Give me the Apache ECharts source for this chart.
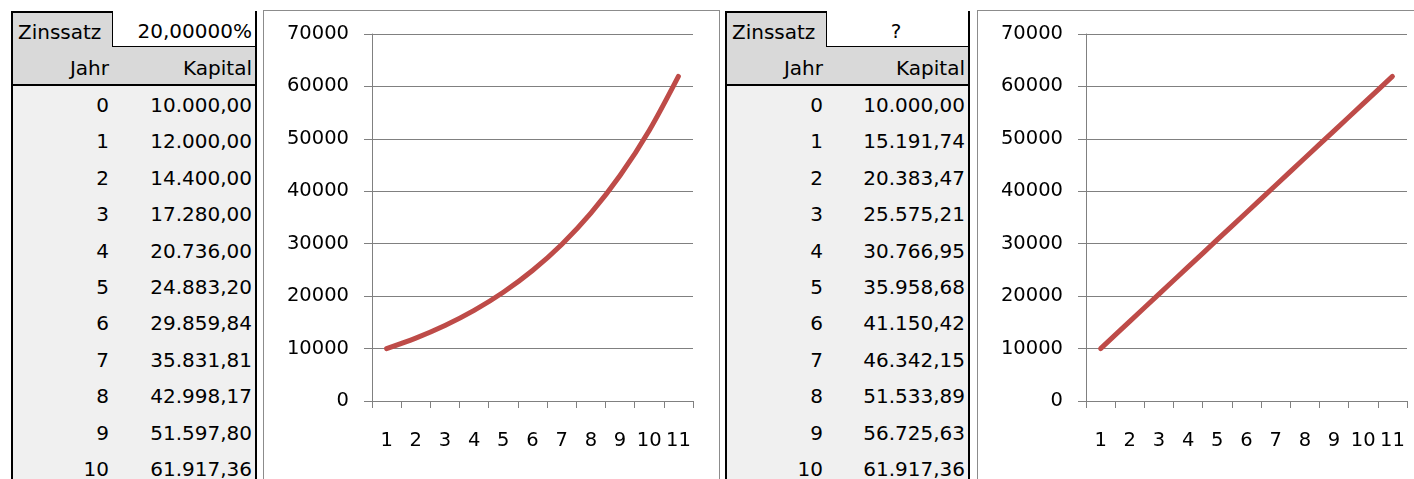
<!DOCTYPE html>
<html>
<head>
<meta charset="utf-8">
<script src="https://cdn.jsdelivr.net/npm/echarts@6/dist/echarts.min.js"></script>
<style>
body {
    margin: 0;
    width: 1414px;
    height: 479px;
    overflow: hidden;
    position: relative;
    background: #fff;
    font-family: "DejaVu Sans", sans-serif;
    color: #000;
}
.tbl {
    position: absolute;
    top: 11px;
    height: 480px;
    background: #f0f0f0;
    border: 2px solid #000;
    border-bottom: none;
    box-sizing: border-box;
    font-size: 20px;
}
.tbl div {
    position: absolute;
    white-space: nowrap;
}
.hdr { background: #d9d9d9; left: 0; right: 0; top: 0; height: 72px; }
.cell { height: 36px; line-height: 38px; text-align: right; }
.box {
    position: absolute;
    top: 10px;
    height: 480px;
    border: 1px solid #8c8c8c;
    border-bottom: none;
    box-sizing: border-box;
}
</style>
</head>
<body>
<div class="tbl" id="t1" style="left:11px;width:246px;"></div>
<div class="box" style="left:263px;width:457px;"><div id="c1" style="width:455px;height:479px;"></div></div>
<div class="tbl" id="t2" style="left:725px;width:245px;"></div>
<div class="box" style="left:977px;width:460px;"><div id="c2" style="width:458px;height:479px;"></div></div>
<script>
// Jahr 0..10, Diagramm-Achse 1..11
var years = [0, 1, 2, 3, 4, 5, 6, 7, 8, 9, 10];
var xLabels = ['1', '2', '3', '4', '5', '6', '7', '8', '9', '10', '11'];
var capitalA = [10000.00, 12000.00, 14400.00, 17280.00, 20736.00, 24883.20, 29859.84, 35831.81, 42998.17, 51597.80, 61917.36];
var capitalB = [10000.00, 15191.74, 20383.47, 25575.21, 30766.95, 35958.68, 41150.42, 46342.15, 51533.89, 56725.63, 61917.36];
var rateA = '20,00000%';
var rateB = '?';

function fmt(v) {
    var s = v.toFixed(2).split('.');
    s[0] = s[0].replace(/\B(?=(\d{3})+(?!\d))/g, '.');
    return s[0] + ',' + s[1];
}

function buildTable(id, rate, rateAlign, values) {
    var el = document.getElementById(id);
    var w = el.offsetWidth - 4;
    var html = '<div class="hdr"></div>';
    html += '<div class="cell" style="left:0;width:101px;top:0;text-align:left;padding-left:5px;">Zinssatz</div>';
    html += '<div class="cell" style="left:99px;width:' + (w - 99) + 'px;top:-2px;height:36px;background:#fff;border-left:1px solid #000;border-bottom:1px solid #000;box-sizing:border-box;text-align:' + rateAlign + ';padding-right:3px;line-height:40px;">' + rate + '</div>';
    html += '<div class="cell" style="left:0;width:96px;top:36px;">Jahr</div>';
    html += '<div class="cell" style="right:3px;top:36px;">Kapital</div>';
    html += '<div style="left:0;right:0;top:71px;height:2px;background:#000;"></div>';
    for (var i = 0; i < years.length; i++) {
        var top = 73 + i * 36.4;
        html += '<div class="cell" style="left:0;width:96px;top:' + top + 'px;">' + years[i] + '</div>';
        html += '<div class="cell" style="right:3px;top:' + top + 'px;">' + fmt(values[i]) + '</div>';
    }
    el.innerHTML = html;
}

buildTable('t1', rateA, 'right', capitalA);
buildTable('t2', rateB, 'center', capitalB);

function makeOption(values) {
    var grey = '#808080';
    return {
        animation: false,
        grid: { left: 108, top: 23, width: 321, height: 367 },
        xAxis: {
            type: 'category',
            data: xLabels,
            boundaryGap: true,
            axisLine: { lineStyle: { color: grey, width: 1 } },
            axisTick: { show: true, interval: 0, length: 7, lineStyle: { color: grey } },
            axisLabel: { interval: 0, margin: 30, color: '#000', fontSize: 19.5, fontFamily: 'DejaVu Sans' }
        },
        yAxis: {
            type: 'value',
            min: 0,
            max: 70000,
            interval: 10000,
            axisLine: { show: true, lineStyle: { color: grey, width: 1 } },
            axisTick: { show: true, length: 8, lineStyle: { color: grey } },
            axisLabel: {
                margin: 23, color: '#000', fontSize: 19.5, fontFamily: 'DejaVu Sans',
                formatter: function (v) { return String(v); }
            },
            splitLine: { lineStyle: { color: grey, width: 1 } }
        },
        series: [{
            type: 'line',
            data: values,
            smooth: 0.3,
            showSymbol: false,
            lineStyle: { color: '#be4b48', width: 5, cap: 'round' }
        }]
    };
}

echarts.init(document.getElementById('c1')).setOption(makeOption(capitalA));
echarts.init(document.getElementById('c2')).setOption(makeOption(capitalB));
</script>
</body>
</html>
